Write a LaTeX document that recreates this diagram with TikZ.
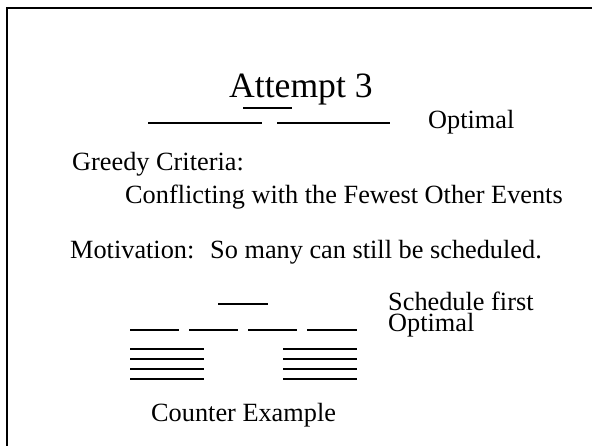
\documentclass[tikz,border=0pt]{standalone}
\usepackage{fontspec}
\setmainfont{Liberation Serif}
\begin{document}
\begin{tikzpicture}[x=1pt,y=-1pt,
  txt/.style={anchor=base west,inner sep=0pt,font=\fontsize{26.3}{30}\selectfont},
  bar/.style={line width=2.3pt},
  frame/.style={line width=2.6pt}]
\useasboundingbox (0,0) rectangle (592,445);
\draw[frame] (7,450) -- (7,8) -- (600,8);
% title
\node[anchor=base west,inner sep=0pt,font=\fontsize{35.6}{40}\selectfont] (title) at (229,97) {Attempt 3};
\draw[bar] (148,123) -- (262,123);
\draw[bar] (277,123) -- (390,123);
\draw[bar] (243,108) -- (292,108);
\node[txt] (opt1) at (428,128) {Optimal};
\node[txt] (greedy) at (72,170) {Greedy Criteria:};
\node[txt] (confl) at (125,203) {Conflicting with the Fewest Other Events};
\node[txt] (motiv) at (70,258) {Motivation:};
\node[txt] (somany) at (210,258) {So many can still be scheduled.};
% counter example
\draw[bar] (218,304) -- (268,304);
\foreach \a/\b in {130/179,189/238,248/297,307/357}
  \draw[bar] (\a,330) -- (\b,330);
\foreach \y in {349,359,369,379}{
  \draw[bar] (130,\y) -- (204,\y);
  \draw[bar] (283,\y) -- (357,\y);
}
\node[txt,align=left,font=\fontsize{26.3}{21.5}\selectfont] (sched) at (388,331.5) {Schedule first\\Optimal};
\node[txt] (counter) at (151,421) {Counter Example};
\end{tikzpicture}
\end{document}
